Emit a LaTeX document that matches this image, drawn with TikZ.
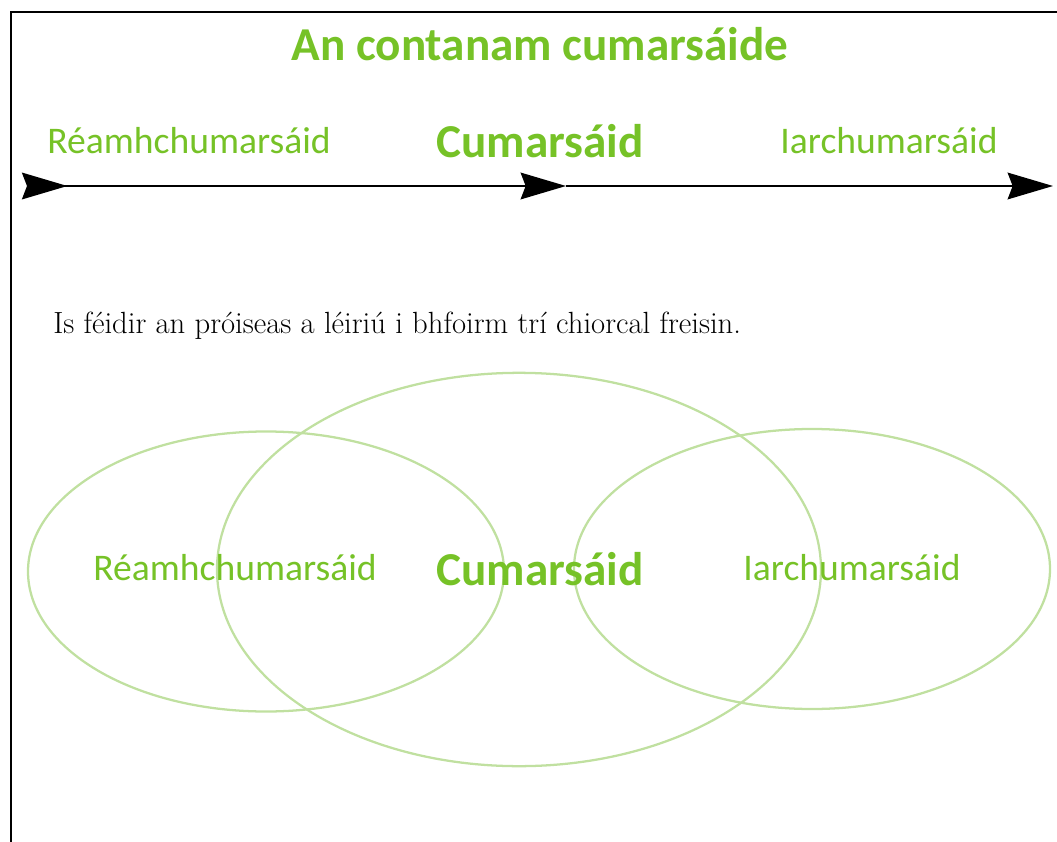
\documentclass[tikz,border=0pt]{standalone}
\usepackage{fontspec}
\usepackage{tikz}
\usetikzlibrary{arrows.meta,shapes}
\newfontfamily\labelfont{Carlito}
\definecolor{cgreen}{RGB}{118,194,39}
\definecolor{cring}{RGB}{192,224,160}

\begin{document}
\begin{tikzpicture}[x=0.75pt,y=-0.75pt,
	lbl/.style={text=cgreen,font=\labelfont\fontsize{28.2}{32}\selectfont,inner sep=0pt,anchor=base},
	lblb/.style={lbl,font=\labelfont\bfseries\fontsize{35.4}{40}\selectfont},
	ring/.style={ellipse,draw=cring,line width=1.7pt,inner sep=0pt},
	tip/.style={line width=1.6pt}]
	\useasboundingbox (0,0) rectangle (1057,842);
	% frame
	\coordinate (fr) at (1057,12);
	\coordinate (fc) at (11,12);
	\coordinate (fb) at (11,842);
	\draw[line width=0.8pt] (fr) -- (fc) -- (fb);
	% circles
	\node[ring,minimum width=357pt,minimum height=210pt] (precirc) at (266,571.5) {};
	\node[ring,minimum width=453pt,minimum height=295pt] (commcirc) at (519,569.5) {};
	\node[ring,minimum width=357pt,minimum height=210pt] (postcirc) at (812,569) {};
	% texts
	\node[lblb] (title) at (540,61) {An contanam cumarsáide};
	\node[lbl] (pre) at (189,153) {Réamhchumarsáid};
	\node[lblb] (comm) at (540,157) {Cumarsáid};
	\node[lbl] (post) at (889,153) {Iarchumarsáid};
	\node[anchor=base west,inner sep=0pt,font=\fontsize{23}{27}\selectfont] (note) at (53,333)
		{Is féidir an próiseas a léiriú i bhfoirm trí chiorcal freisin.};
	\node[lbl] (prein) at (235,580) {Réamhchumarsáid};
	\node[lblb] (commin) at (540,585) {Cumarsáid};
	\node[lbl] (postin) at (852,580) {Iarchumarsáid};
	% time line
	\coordinate (t0) at (22,186);
	\coordinate (t1) at (566,186);
	\coordinate (t2) at (1053,186);
	\draw[tip,{Stealth[reversed,length=34pt,width=20pt,inset=3.75pt]}-{Stealth[length=34pt,width=20pt,inset=3.75pt]}] (t0) -- (t1);
	\draw[tip,-{Stealth[length=34pt,width=20pt,inset=3.75pt]}] (t1) -- (t2);
\end{tikzpicture}
\end{document}
